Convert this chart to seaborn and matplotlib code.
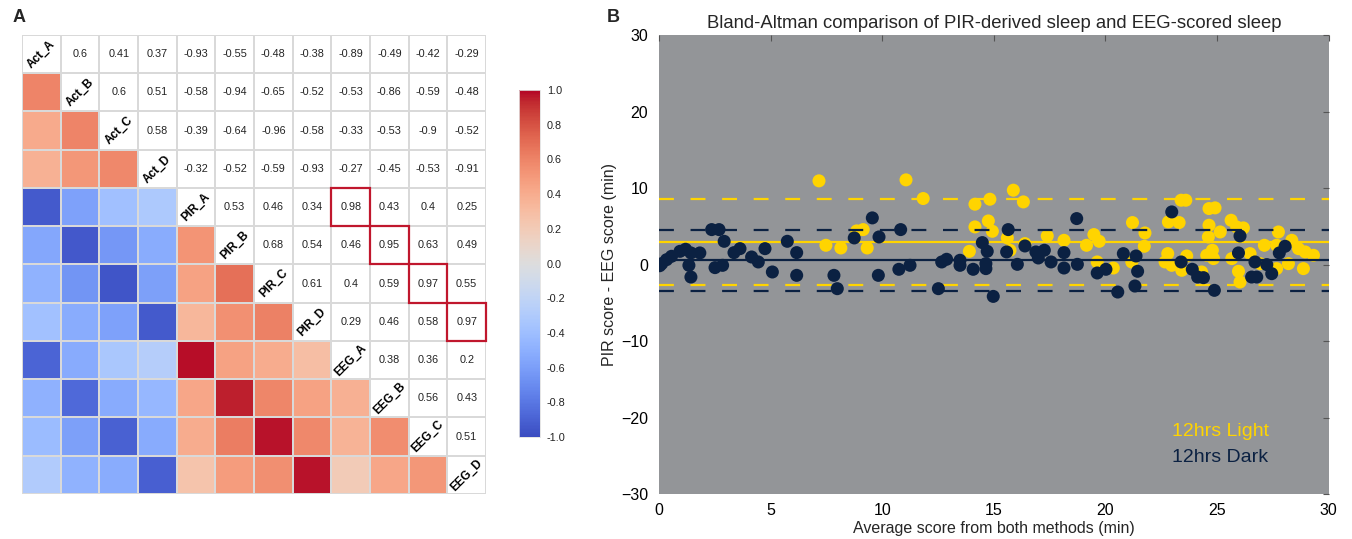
import numpy as np
import pandas as pd
import matplotlib
matplotlib.use("Agg")
import matplotlib.pyplot as plt
import seaborn as sns
from matplotlib.patches import Rectangle
from matplotlib.colors import ListedColormap

# ---------------- Panel A data ----------------
labels = ["Act_A", "Act_B", "Act_C", "Act_D", "PIR_A", "PIR_B", "PIR_C", "PIR_D",
          "EEG_A", "EEG_B", "EEG_C", "EEG_D"]
upper_rows = [
    [0.6, 0.41, 0.37, -0.93, -0.55, -0.48, -0.38, -0.89, -0.49, -0.42, -0.29],
    [0.6, 0.51, -0.58, -0.94, -0.65, -0.52, -0.53, -0.86, -0.59, -0.48],
    [0.58, -0.39, -0.64, -0.96, -0.58, -0.33, -0.53, -0.9, -0.52],
    [-0.32, -0.52, -0.59, -0.93, -0.27, -0.45, -0.53, -0.91],
    [0.53, 0.46, 0.34, 0.98, 0.43, 0.4, 0.25],
    [0.68, 0.54, 0.46, 0.95, 0.63, 0.49],
    [0.61, 0.4, 0.59, 0.97, 0.55],
    [0.29, 0.46, 0.58, 0.97],
    [0.38, 0.36, 0.2],
    [0.56, 0.43],
    [0.51],
]
highlight_pairs = [("PIR_A", "EEG_A"), ("PIR_B", "EEG_B"),
                   ("PIR_C", "EEG_C"), ("PIR_D", "EEG_D")]
cbar_ticks = [-1.0, -0.8, -0.6, -0.4, -0.2, 0.0, 0.2, 0.4, 0.6, 0.8, 1.0]

# ---------------- Panel B data ----------------
light_x = [7.16, 7.47, 8.14, 8.85, 9.14, 9.32, 11.06, 11.83, 14.15, 14.82, 15.87, 16.32,
           14.15, 14.75, 14.93, 13.90, 15.60, 15.72, 16.39, 17.39, 18.14, 19.15, 19.48,
           19.72, 19.63, 21.21, 21.77, 21.74, 21.18, 20.35, 22.82, 23.30, 23.39, 23.60,
           22.79, 22.67, 22.97, 23.64, 23.42, 24.31, 24.64, 24.91, 24.64, 24.61, 25.14,
           24.79, 24.84, 24.54, 25.63, 25.88, 26.18, 25.66, 25.96, 26.03, 26.48, 27.12,
           27.75, 27.67, 28.35, 28.65, 28.95, 29.32, 28.87, 28.20, 27.67, 26.93]
light_y = [10.99, 2.57, 2.22, 4.45, 4.62, 2.22, 11.12, 8.68, 7.94, 8.59, 9.77, 8.24,
           4.97, 5.75, 4.40, 1.78, 3.53, 1.92, 2.79, 3.79, 3.22, 2.57, 3.97,
           3.09, 0.39, 5.54, 4.18, 2.44, 0.39, -0.40, 5.62, 5.54, 8.46, 8.46,
           1.48, 0.39, -0.05, 1.17, -0.70, -0.92, 7.37, 7.46, 5.19, 3.66, 4.31,
           1.92, 0.83, 1.26, 5.84, 4.97, 4.84, 0.83, -0.83, -2.23, 1.48, 2.57,
           4.31, 2.57, 3.22, 2.13, 1.70, 1.26, -0.48, 0.17, -0.48, 0.17]
dark_x = [0.02, 0.11, 0.33, 0.55, 0.93, 1.18, 1.42, 1.33, 1.42, 1.82, 2.35, 2.68, 2.91,
          2.50, 2.84, 3.35, 3.62, 4.14, 4.44, 4.74, 5.07, 5.74, 6.16, 6.16, 7.83, 7.98,
          8.74, 9.55, 9.85, 9.82, 10.82, 10.74, 11.24, 12.66, 12.88, 12.51, 13.48, 13.48,
          14.07, 14.48, 14.70, 14.64, 14.64, 14.97, 15.64, 15.57, 16.05, 16.39, 16.88,
          17.26, 16.99, 17.56, 18.14, 18.14, 18.71, 18.74, 19.63, 20.02, 20.55, 20.80,
          21.37, 21.44, 21.32, 22.97, 23.39, 23.89, 24.13, 24.39, 24.88, 26.03, 25.96,
          26.55, 26.78, 26.70, 27.23, 27.45, 27.79, 28.05]
dark_y = [-0.1, 0.17, 0.69, 1.13, 1.78, 2.05, 1.57, -0.05, -1.58, 1.57, 4.62, 4.62, 3.09,
          -0.35, -0.05, 1.61, 2.13, 1.04, 0.39, 2.13, -0.92, 3.09, 1.61, -1.36, -1.36, -3.10,
          3.53, 6.15, 3.66, -1.36, 4.62, -0.57, -0.05, 0.39, 0.74, -3.10, 0.61, -0.05,
          -0.57, 2.92, 1.78, 0.17, -0.48, -4.11, 4.62, 1.70, 0.08, 2.48, 1.70,
          1.92, 0.91, 0.39, 1.61, -0.40, 6.06, 0.08, -1.05, -0.57, -3.54, 1.48,
          1.17, -0.83, -2.75, 6.93, 0.39, -0.57, -1.58, -1.66, -3.32, 3.79, 1.57,
          -1.58, -1.58, 0.39, 0.04, -1.14, 1.57, 2.44]
# horizontal reference lines: upper limit, mean, lower limit
light_lines = [8.62, 3.0, -2.63]
dark_lines = [4.62, 0.6, -3.37]
group_names = ["12hrs Light", "12hrs Dark"]

YELLOW = "#ffd400"
NAVY = "#0b2142"
BG_GRAY = "#939598"

sns.set_theme(style="white")
plt.rcParams["font.family"] = ["Liberation Sans", "DejaVu Sans"]

fig = plt.figure(figsize=(13.52, 5.39), dpi=100)

# ---------------- Panel A ----------------
n = len(labels)
corr = np.eye(n)
for i, row in enumerate(upper_rows):
    corr[i, i + 1:] = row
    corr[i + 1:, i] = row
cdf = pd.DataFrame(corr, index=labels, columns=labels)

axA = fig.add_axes([0.0163, 0.0835, 0.3432, 0.8516])
cax = fig.add_axes([0.3839, 0.1892, 0.0155, 0.6438])

mask_lower = np.triu(np.ones((n, n), dtype=bool), k=0)
sns.heatmap(cdf, mask=mask_lower, cmap="coolwarm", vmin=-1, vmax=1,
            linewidths=1.3, linecolor="#d9d9d9", cbar_ax=cax,
            xticklabels=False, yticklabels=False, ax=axA)

annot = np.full((n, n), "", dtype=object)
for i in range(n):
    for j in range(i + 1, n):
        annot[i, j] = format(corr[i, j], "g")
mask_upper = np.tril(np.ones((n, n), dtype=bool), k=-1)
sns.heatmap(cdf, mask=mask_upper, cmap=ListedColormap(["white"]), cbar=False,
            annot=annot, fmt="", annot_kws={"size": 7.8, "color": "#222222"},
            linewidths=1.3, linecolor="#d9d9d9",
            xticklabels=False, yticklabels=False, ax=axA)

for i, lab in enumerate(labels):
    axA.text(i + 0.5, i + 0.5, lab, rotation=45, ha="center", va="center",
             fontsize=8.5, fontweight="bold", color="black")

for a, b in highlight_pairs:
    r = labels.index(a)
    c = labels.index(b)
    axA.add_patch(Rectangle((c, r), 1, 1, fill=False, edgecolor="#c0172d",
                            lw=1.6, zorder=5, clip_on=False))
axA.set_xlabel("")
axA.set_ylabel("")

cb = axA.collections[0].colorbar
cb.set_ticks(cbar_ticks)
cb.set_ticklabels([f"{v:.1f}" for v in cbar_ticks])
cb.outline.set_edgecolor("#e0e0e0")
cb.outline.set_linewidth(0.6)
cax.tick_params(length=0, labelsize=7.8, pad=5, colors="#222222")

fig.text(0.009, 0.967, "A", fontsize=13, fontweight="bold", ha="left", va="center")

# ---------------- Panel B ----------------
axB = fig.add_axes([0.4876, 0.0826, 0.4951, 0.8517])
axB.set_facecolor(BG_GRAY)

ldf = pd.DataFrame({"avg": light_x, "diff": light_y})
ddf = pd.DataFrame({"avg": dark_x, "diff": dark_y})

sns.scatterplot(data=ldf, x="avg", y="diff", color=YELLOW, s=88, linewidth=0,
                edgecolor="none", ax=axB, zorder=2, legend=False)
for k, v in enumerate(light_lines):
    if k == 1:
        axB.axhline(v, color=YELLOW, lw=1.6, zorder=2.5)
    else:
        axB.axhline(v, color=YELLOW, lw=1.6, dashes=(6.7, 7.5), zorder=2.5)
sns.scatterplot(data=ddf, x="avg", y="diff", color=NAVY, s=88, linewidth=0,
                edgecolor="none", ax=axB, zorder=3, legend=False)
for k, v in enumerate(dark_lines):
    if k == 1:
        axB.axhline(v, color=NAVY, lw=1.6, zorder=3.5)
    else:
        axB.axhline(v, color=NAVY, lw=1.6, dashes=(6.7, 7.5), zorder=3.5)

axB.set_xlim(0, 30)
axB.set_ylim(-30, 30)
axB.set_xticks([0, 5, 10, 15, 20, 25, 30])
axB.set_yticks([-30, -20, -10, 0, 10, 20, 30])
for s in axB.spines.values():
    s.set_visible(False)
axB.tick_params(axis="both", direction="in", length=4, width=0.8, color="#555555",
                labelsize=11.5, labelcolor="black", top=True, right=True,
                labeltop=False, labelright=False)
axB.tick_params(axis="y", pad=8)
axB.tick_params(axis="x", pad=6)
axB.set_xlabel("Average score from both methods (min)", fontsize=11.5, labelpad=2)
axB.set_ylabel("PIR score - EEG score (min)", fontsize=11.5, labelpad=3)
axB.set_title("Bland-Altman comparison of PIR-derived sleep and EEG-scored sleep",
              fontsize=13.3, pad=5)

axB.text(0.838, 0.138, group_names[0], transform=axB.transAxes, color=YELLOW,
         fontsize=14, ha="center", va="center")
axB.text(0.838, 0.08, group_names[1], transform=axB.transAxes, color=NAVY,
         fontsize=14, ha="center", va="center")

fig.text(0.4485, 0.967, "B", fontsize=13, fontweight="bold", ha="left", va="center")

fig.savefig("out.png", dpi=100)
